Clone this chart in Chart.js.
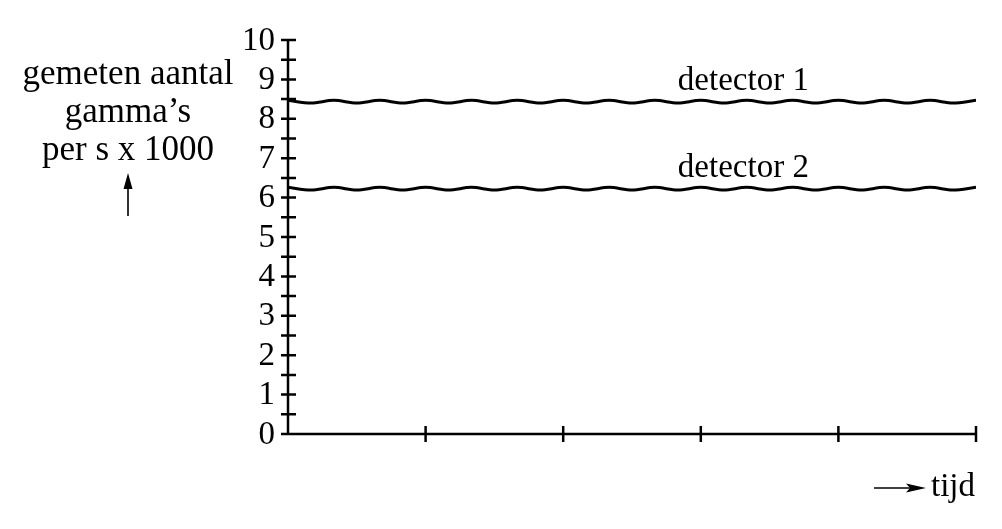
<!DOCTYPE html>
<html>
<head>
<meta charset="utf-8">
<script src="https://cdn.jsdelivr.net/npm/chart.js@4/dist/chart.umd.min.js"></script>
<style>
html,body{margin:0;padding:0;background:#fff;}
#wrap{width:1002px;height:529px;position:relative;}
canvas{display:block;}
</style>
</head>
<body>
<div id="wrap"><canvas id="c" width="1002" height="529"></canvas></div>
<script>
// ---- data ----
const timeSteps = [0,1,2,3,4,5,6,7,8,9,10,11,12,13,14,15,16,17,18,19,20,21,22,23,24,25,26,27,28,29,30];
const detector1 = [8.47,8.40,8.47,8.40,8.47,8.40,8.47,8.40,8.47,8.40,8.47,8.40,8.47,8.40,8.47,8.40,8.47,8.40,8.47,8.40,8.47,8.40,8.47,8.40,8.47,8.40,8.47,8.40,8.47,8.40,8.47];
const detector2 = [6.26,6.19,6.26,6.19,6.26,6.19,6.26,6.19,6.26,6.19,6.26,6.19,6.26,6.19,6.26,6.19,6.26,6.19,6.26,6.19,6.26,6.19,6.26,6.19,6.26,6.19,6.26,6.19,6.26,6.19,6.26];
const seriesNames = ['detector 1','detector 2'];
const yTickValues = [0,1,2,3,4,5,6,7,8,9,10];
const yTickLabels = ['0','1','2','3','4','5','6','7','8','9','10'];
const yMinorTicks = [0.5,1.5,2.5,3.5,4.5,5.5,6.5,7.5,8.5,9.5];
const xTickValues = [0,6,12,18,24,30];
const yTitleLines = ['gemeten aantal','gamma’s','per s x 1000'];
const xTitle = 'tijd';
const labelAnchorX = 17;

const FONT = '33px "Liberation Serif", "Times New Roman", serif';
const TITLE_FONT = '35px "Liberation Serif", "Times New Roman", serif';

const axesPlugin = {
  id: 'axesPlugin',
  afterDraw(chart) {
    const ctx = chart.ctx;
    const xs = chart.scales.x, ys = chart.scales.y;
    const x0 = xs.getPixelForValue(0), x1 = xs.getPixelForValue(30);
    const y0 = ys.getPixelForValue(0), y1 = ys.getPixelForValue(10);
    ctx.save();
    ctx.strokeStyle = '#000';
    ctx.fillStyle = '#000';
    ctx.lineWidth = 2.5;
    ctx.lineCap = 'butt';
    // axes
    ctx.beginPath();
    ctx.moveTo(x0, y1); ctx.lineTo(x0, y0);
    ctx.moveTo(x0, y0); ctx.lineTo(x1, y0);
    ctx.stroke();
    // y ticks (major + minor, crossing)
    const allY = yTickValues.concat(yMinorTicks);
    ctx.beginPath();
    allY.forEach(v => {
      const py = ys.getPixelForValue(v);
      ctx.moveTo(x0 - 7, py);
      ctx.lineTo(v === 0 ? x0 : x0 + 8, py);
    });
    ctx.stroke();
    // x ticks (crossing)
    ctx.beginPath();
    xTickValues.forEach(v => {
      if (v === 0) return;
      const px = xs.getPixelForValue(v);
      ctx.moveTo(px, y0 - 8);
      ctx.lineTo(px, y0 + 8);
    });
    ctx.stroke();
    // y tick labels
    ctx.font = FONT;
    ctx.textAlign = 'right';
    ctx.textBaseline = 'middle';
    yTickValues.forEach((v, i) => {
      ctx.fillText(yTickLabels[i], x0 - 13, ys.getPixelForValue(v) + 1);
    });
    // y title
    ctx.font = TITLE_FONT;
    ctx.textAlign = 'center';
    ctx.textBaseline = 'alphabetic';
    const tx = 128;
    const baselines = [84, 122, 160];
    yTitleLines.forEach((t, i) => ctx.fillText(t, tx, baselines[i]));
    // up arrow
    ctx.lineWidth = 1.6;
    ctx.beginPath();
    ctx.moveTo(tx, 216); ctx.lineTo(tx, 186);
    ctx.stroke();
    ctx.beginPath();
    ctx.moveTo(tx, 173); ctx.lineTo(tx - 4.5, 189); ctx.lineTo(tx + 4.5, 189); ctx.closePath();
    ctx.fill();
    // x title with arrow
    ctx.font = FONT;
    const ay = 488;
    ctx.beginPath();
    ctx.moveTo(874, ay); ctx.lineTo(910, ay);
    ctx.stroke();
    ctx.beginPath();
    ctx.moveTo(926, ay); ctx.lineTo(906, ay - 4.5); ctx.lineTo(910, ay); ctx.lineTo(906, ay + 4.5); ctx.closePath();
    ctx.fill();
    ctx.textAlign = 'left';
    ctx.fillText(xTitle, 931, 496);
    // series labels
    ctx.textAlign = 'left';
    const lx = xs.getPixelForValue(labelAnchorX);
    ctx.fillText(seriesNames[0], lx, ys.getPixelForValue(8.43) - 12);
    ctx.fillText(seriesNames[1], lx, ys.getPixelForValue(6.22) - 12);
    ctx.restore();
  }
};

new Chart(document.getElementById('c'), {
  type: 'line',
  data: {
    datasets: [
      { label: seriesNames[0], data: timeSteps.map((t, i) => ({x: t, y: detector1[i]})),
        borderColor: '#000', borderWidth: 3, pointRadius: 0, cubicInterpolationMode: 'monotone', fill: false },
      { label: seriesNames[1], data: timeSteps.map((t, i) => ({x: t, y: detector2[i]})),
        borderColor: '#000', borderWidth: 3, pointRadius: 0, cubicInterpolationMode: 'monotone', fill: false }
    ]
  },
  options: {
    responsive: false,
    animation: false,
    devicePixelRatio: 1,
    layout: { padding: { left: 288, right: 26, top: 40, bottom: 95 } },
    scales: {
      x: { type: 'linear', min: 0, max: 30, display: false },
      y: { type: 'linear', min: 0, max: 10, display: false }
    },
    plugins: { legend: { display: false }, tooltip: { enabled: false } }
  },
  plugins: [axesPlugin]
});
</script>
</body>
</html>
